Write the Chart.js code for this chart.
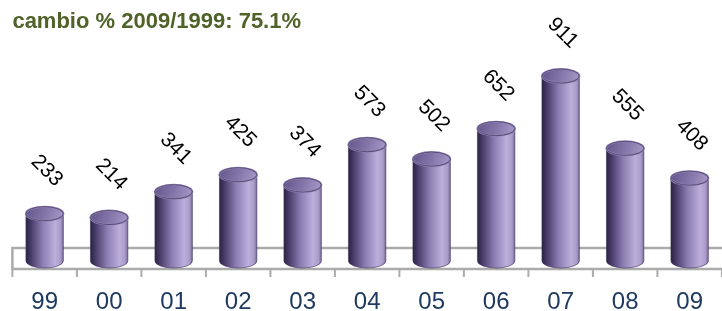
<!DOCTYPE html>
<html>
<head>
<meta charset="utf-8">
<script src="https://cdn.jsdelivr.net/npm/chart.js@4.4.1/dist/chart.umd.min.js"></script>
<style>
    html, body { margin: 0; padding: 0; background: #fff; overflow: hidden; width: 722px; height: 311px; }
    #wrap { width: 730px; height: 311px; }
</style>
</head>
<body>
<div id="wrap"><canvas id="chart"></canvas></div>
<script>
// datos
const years = ["99", "00", "01", "02", "03", "04", "05", "06", "07", "08", "09"];
const values = [233, 214, 341, 425, 374, 573, 502, 652, 911, 555, 408];
const titleText = "cambio % 2009/1999: 75.1%";

const ELLIPSE_RY = 7;

// piso 3D con marcas entre categorías
const floorPlugin = {
    id: 'floor',
    beforeDatasetsDraw(chart) {
        const ctx = chart.ctx;
        const area = chart.chartArea;
        const xs = chart.scales.x;
        const top = area.bottom - 13;
        const front = area.bottom + 8;
        const half = (xs.getPixelForTick(1) - xs.getPixelForTick(0)) / 2;
        const left = xs.getPixelForTick(0) - half;
        ctx.save();
        ctx.strokeStyle = '#ababab';
        ctx.lineWidth = 2.5;
        ctx.beginPath();
        ctx.moveTo(area.right + 10, top);
        ctx.lineTo(left, top);
        ctx.lineTo(left, front);
        ctx.lineTo(area.right + 10, front);
        ctx.stroke();
        ctx.lineWidth = 2;
        for (let i = 0; i <= years.length; i++) {
            const x = left + i * half * 2;
            ctx.beginPath();
            ctx.moveTo(x, front);
            ctx.lineTo(x, front + 8);
            ctx.stroke();
        }
        ctx.restore();
    }
};

// cilindros dibujados sobre los elementos de barra
const cylinderPlugin = {
    id: 'cylinders',
    afterDatasetsDraw(chart) {
        const ctx = chart.ctx;
        const meta = chart.getDatasetMeta(0);
        ctx.save();
        meta.data.forEach((bar, i) => {
            const w = bar.width;
            const x0 = bar.x - w / 2;
            const x1 = bar.x + w / 2;
            const top = bar.y;
            const base = bar.base;
            const rx = w / 2;

            const g = ctx.createLinearGradient(x0, 0, x1, 0);
            g.addColorStop(0, '#2c2342');
            g.addColorStop(0.12, '#453866');
            g.addColorStop(0.45, '#8d7db2');
            g.addColorStop(0.78, '#bcafdb');
            g.addColorStop(0.92, '#ab9cca');
            g.addColorStop(1, '#7a6b9e');

            // cuerpo + base inferior
            ctx.beginPath();
            ctx.moveTo(x0, top);
            ctx.lineTo(x0, base);
            ctx.ellipse(bar.x, base, rx, ELLIPSE_RY, 0, Math.PI, 0, true);
            ctx.lineTo(x1, top);
            ctx.closePath();
            ctx.fillStyle = g;
            ctx.fill();
            ctx.strokeStyle = 'rgba(60,48,90,0.6)';
            ctx.lineWidth = 1;
            ctx.stroke();

            // tapa superior
            const tg = ctx.createLinearGradient(x0, top - ELLIPSE_RY, x1, top + ELLIPSE_RY);
            tg.addColorStop(0, '#62548a');
            tg.addColorStop(0.5, '#8475a9');
            tg.addColorStop(1, '#a99bc9');
            ctx.beginPath();
            ctx.ellipse(bar.x, top, rx, ELLIPSE_RY, 0, 0, Math.PI * 2);
            ctx.fillStyle = tg;
            ctx.fill();
            ctx.strokeStyle = '#9486b6';
            ctx.lineWidth = 2;
            ctx.stroke();
            ctx.strokeStyle = '#4a3e68';
            ctx.lineWidth = 0.8;
            ctx.beginPath();
            ctx.ellipse(bar.x, top, rx, ELLIPSE_RY, 0, 0, Math.PI * 2);
            ctx.stroke();

            // etiqueta de valor girada
            ctx.save();
            ctx.translate(bar.x + 2, top - 43);
            ctx.rotate(Math.PI / 4);
            ctx.fillStyle = '#000';
            ctx.font = '21px Arial, "Liberation Sans", sans-serif';
            ctx.textAlign = 'center';
            ctx.textBaseline = 'middle';
            ctx.fillText(String(values[i]), 0, 0);
            ctx.restore();
        });
        ctx.restore();
    }
};

new Chart(document.getElementById("chart"), {
    type: 'bar',
    data: {
        labels: years,
        datasets: [{
            data: values,
            backgroundColor: 'rgba(0,0,0,0)',
            borderWidth: 0,
            barPercentage: 0.58,
            categoryPercentage: 1
        }]
    },
    options: {
        responsive: true,
        maintainAspectRatio: false,
        animation: false,
        events: [],
        layout: { padding: { left: 12.4, right: 0, top: 0, bottom: 0 } },
        plugins: {
            legend: { display: false },
            tooltip: { enabled: false },
            title: {
                display: true,
                text: titleText,
                align: 'start',
                color: '#4f6228',
                font: { family: 'Arial, "Liberation Sans", sans-serif', size: 22, weight: 'bold', lineHeight: 1.2 },
                padding: { top: 9, bottom: 22.6 }
            }
        },
        scales: {
            y: { display: false, min: 0, max: 1000 },
            x: {
                grid: { display: false, drawTicks: false },
                border: { display: false },
                ticks: {
                    color: '#1f3a60',
                    font: { family: 'Arial, "Liberation Sans", sans-serif', size: 24 },
                    padding: 27,
                    maxRotation: 0,
                    autoSkip: false
                },
                afterFit: (scale) => { scale.height = 50; }
            }
        }
    },
    plugins: [floorPlugin, cylinderPlugin]
});
</script>
</body>
</html>
